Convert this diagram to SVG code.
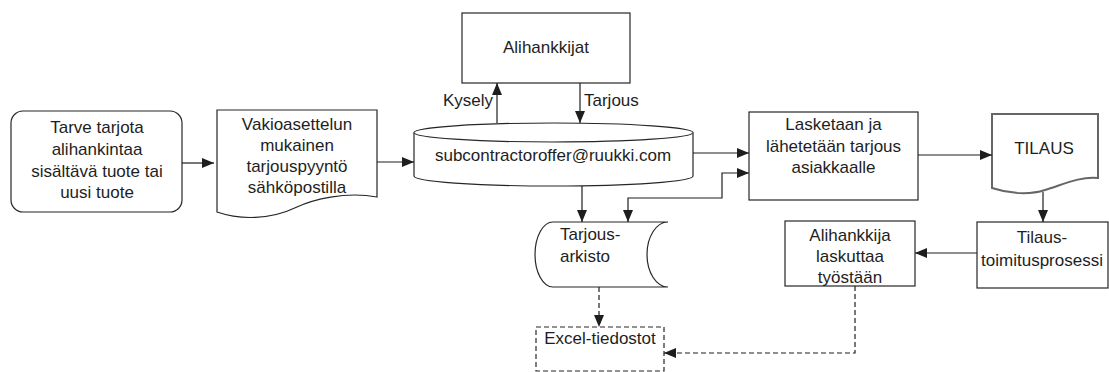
<svg xmlns="http://www.w3.org/2000/svg" width="1109" height="372" viewBox="0 0 1109 372">
<style>
.s{fill:#fff;stroke:#262626;stroke-width:1.2}
.t{font-family:"Liberation Sans",Arial,sans-serif;font-size:17px;fill:#1e1e1e;text-anchor:middle}
.c{fill:none;stroke:#1e1e1e;stroke-width:1.2}
.d{stroke-dasharray:5,3}
</style>
<defs>
<marker id="a" markerUnits="userSpaceOnUse" markerWidth="12" markerHeight="10" viewBox="0 0 12 10" refX="12" refY="5" orient="auto-start-reverse">
<path d="M0,0 L12,5 L0,10 Z" fill="#1e1e1e"/>
</marker>
</defs>
<rect width="1109" height="372" fill="#fff"/>
<g id="tarve">
<rect class="s" x="11" y="111" width="171" height="101" rx="12"/>
<text class="t" x="97" y="133">Tarve tarjota</text>
<text class="t" x="97" y="155">alihankintaa</text>
<text class="t" x="97" y="177">sisältävä tuote tai</text>
<text class="t" x="97" y="198">uusi tuote</text>
</g>
<g id="vakio">
<path class="s" d="M217,110 H377 V197 C345,191 312,200 297,207 C270,220 240,220 217,212 Z"/>
<text class="t" x="297" y="130">Vakioasettelun</text>
<text class="t" x="297" y="151">mukainen</text>
<text class="t" x="297" y="172">tarjouspyyntö</text>
<text class="t" x="297" y="193">sähköpostilla</text>
</g>
<g id="alihankkijat">
<rect class="s" x="462" y="13" width="168" height="70"/>
<text class="t" x="546" y="53">Alihankkijat</text>
</g>
<g id="email">
<path class="s" d="M414,132.5 A139.5,9.5 0 0 1 693,132.5 V176 A139.5,10 0 0 1 414,176 Z"/>
<path class="s" fill="none" d="M414,132.5 A139.5,9.5 0 0 0 693,132.5"/>
<text class="t" x="553" y="161">subcontractoroffer@ruukki.com</text>
</g>
<g id="lasketaan">
<rect class="s" x="749" y="112" width="169" height="88"/>
<text class="t" x="833.5" y="130">Lasketaan ja</text>
<text class="t" x="833.5" y="152">lähetetään tarjous</text>
<text class="t" x="833.5" y="173">asiakkaalle</text>
</g>
<g id="tilaus">
<path class="s" style="stroke:#666;stroke-width:2" d="M992,114 H1098 V178 C1080,176 1062,185 1045,190 C1030,195 1010,194 992,188 Z"/>
<text class="t" x="1044" y="154">TILAUS</text>
</g>
<g id="arkisto">
<path class="s" d="M553,222 H668 A21,32.5 0 0 0 668,287 H553 A18,32.5 0 0 1 553,222 Z"/>
<text class="t" x="560" y="240" style="text-anchor:start">Tarjous-</text>
<text class="t" x="560" y="262" style="text-anchor:start">arkisto</text>
</g>
<g id="toimitus">
<rect class="s" x="977" y="222" width="131" height="66"/>
<text class="t" x="1042" y="243">Tilaus-</text>
<text class="t" x="1042" y="266">toimitusprosessi</text>
</g>
<g id="laskuttaa">
<rect class="s" x="785" y="221" width="130" height="65"/>
<text class="t" x="850" y="241">Alihankkija</text>
<text class="t" x="850" y="262">laskuttaa</text>
<text class="t" x="850" y="283">työstään</text>
</g>
<g id="excel">
<rect class="s d" x="536" y="327" width="128" height="44"/>
<text class="t" x="600" y="344">Excel-tiedostot</text>
</g>
<g id="connectors">
<path class="c" d="M182,163 H214" marker-end="url(#a)"/>
<path class="c" d="M377,162 H414" marker-end="url(#a)"/>
<path class="c" d="M497,123 V83" marker-end="url(#a)"/>
<path class="c" d="M580,83 V123" marker-end="url(#a)"/>
<path class="c" d="M693,153 H749" marker-end="url(#a)"/>
<path class="c" d="M628,222 V198 H722 V173 H749" marker-start="url(#a)" marker-end="url(#a)"/>
<path class="c" d="M582,186 V222" marker-end="url(#a)"/>
<path class="c" d="M918,155 H992" marker-end="url(#a)"/>
<path class="c" d="M1043,192 V222" marker-end="url(#a)"/>
<path class="c" d="M977,253 H915" marker-end="url(#a)"/>
<path class="c d" d="M599,287 V327" marker-end="url(#a)"/>
<path class="c d" d="M855,286 V353 H664" marker-end="url(#a)"/>
<text class="t" x="493" y="106" style="text-anchor:end">Kysely</text>
<text class="t" x="584" y="106" style="text-anchor:start">Tarjous</text>
</g>
</svg>
